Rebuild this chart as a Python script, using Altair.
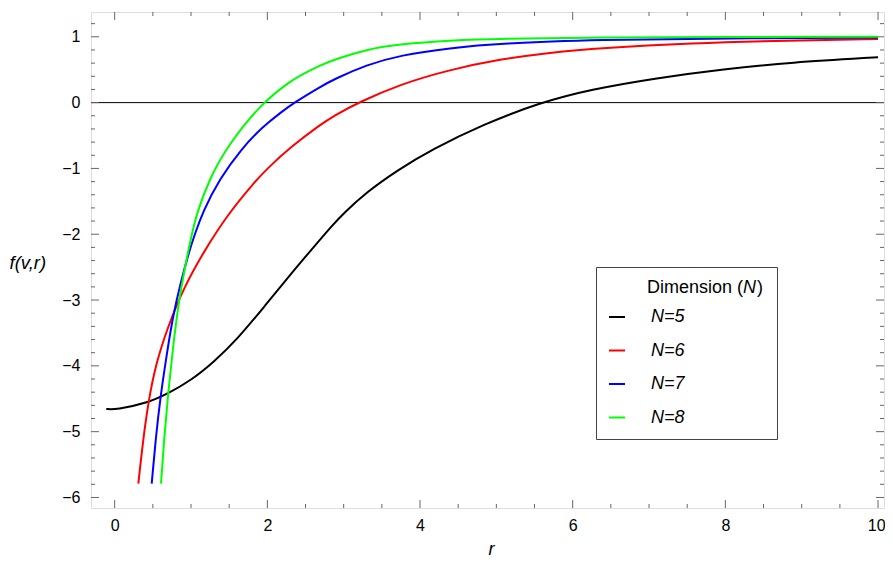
import altair as alt
import pandas as pd

FONT = "Liberation Sans"

# ---- data -------------------------------------------------------------------------
series_names = ["N=5", "N=6", "N=7", "N=8"]
series_colors = ["#000000", "#ff0000", "#0000ff", "#00ff00"]

r_N5 = [-0.11, 0.02, 0.43, 0.70, 1.00, 1.30, 1.61, 1.96, 2.31, 2.57, 2.87, 3.00, 3.30,
        3.70, 4.15, 4.83, 5.57, 6.23, 7.10, 7.98, 8.85, 10.0]
f_N5 = [-4.655, -4.665, -4.565, -4.42, -4.22, -3.94, -3.59, -3.10, -2.60, -2.245, -1.84,
        -1.68, -1.36, -1.03, -0.715, -0.33, 0.0, 0.20, 0.374, 0.51, 0.61, 0.69]

r_N6 = [0.31, 0.367, 0.44, 0.54, 0.695, 0.91, 1.17, 1.48, 1.83, 2.00, 2.31, 2.70, 2.87,
        3.19, 3.74, 4.39, 5.05, 5.70, 6.36, 7.54, 8.85, 10.0]
f_N6 = [-5.79, -5.18, -4.55, -3.97, -3.41, -2.80, -2.26, -1.70, -1.21, -1.00, -0.67,
        -0.33, -0.20, 0.0, 0.28, 0.50, 0.66, 0.76, 0.83, 0.905, 0.945, 0.967]

r_N7 = [0.485, 0.54, 0.60, 0.67, 0.76, 0.86, 0.98, 1.05, 1.153, 1.37, 1.68, 1.87, 2.00,
        2.17, 2.35, 2.70, 2.865, 3.30, 3.74, 4.39, 5.05, 6.36, 8.0, 10.0]
f_N7 = [-5.79, -5.08, -4.47, -3.92, -3.26, -2.75, -2.245, -2.0, -1.667, -1.16, -0.68,
        -0.45, -0.315, -0.155, 0.0, 0.245, 0.35, 0.575, 0.72, 0.83, 0.90, 0.955, 0.978,
        0.988]

r_N8 = [0.607, 0.65, 0.70, 0.76, 0.835, 0.92, 1.01, 1.08, 1.24, 1.48, 1.93, 2.31, 2.43,
        2.70, 2.865, 3.30, 3.74, 4.39, 5.05, 6.36, 8.0, 10.0]
f_N8 = [-5.79, -5.08, -4.42, -3.76, -3.05, -2.50, -2.0, -1.667, -1.16, -0.654, 0.0, 0.33,
        0.414, 0.57, 0.65, 0.81, 0.89, 0.945, 0.972, 0.99, 0.997, 1.0]

x_major = [0, 2, 4, 6, 8, 10]
y_major = [-6, -5, -4, -3, -2, -1, 0, 1]
x_minor = [0.5, 1, 1.5, 2.5, 3, 3.5, 4.5, 5, 5.5, 6.5, 7, 7.5, 8.5, 9, 9.5]
y_minor = [round(k * 0.2, 1) for k in range(-30, 7) if k % 5 != 0]
zero_line = [0]

legend_title_parts = ["Dimension (", "N", ")"]
x_title = "r"
y_title = "f(v,r)"

X_DOMAIN = [-0.31, 10.078]
Y_DOMAIN = [-6.16, 1.377]
W, H = 793, 496
TICK_C = "#666666"
PAD = " " * 16 + "\u200b"   # widens the legend entries (invisible)

# ---- tables -----------------------------------------------------------------------
rows = []
for name, rs, fs in zip(series_names, [r_N5, r_N6, r_N7, r_N8], [f_N5, f_N6, f_N7, f_N8]):
    for i, (r, f) in enumerate(zip(rs, fs)):
        rows.append({"series": name, "r": r, "f": f, "order": i})
df = pd.DataFrame(rows)

xs = alt.Scale(domain=X_DOMAIN, nice=False, zero=False)
ys = alt.Scale(domain=Y_DOMAIN, nice=False, zero=False)

lines = alt.Chart(df).mark_line(strokeWidth=2, interpolate="basis").encode(
    x=alt.X("r:Q", scale=xs,
            axis=alt.Axis(values=x_major, format="d", ticks=False, tickSize=0, domain=False,
                          grid=False, labelFont=FONT, labelFontSize=16, labelColor="black",
                          labelPadding=9, labelFlush=8, labelFlushOffset=7,
                          title=x_title, titleFont=FONT, titleFontSize=18,
                          titleFontStyle="italic", titleFontWeight="normal",
                          titleColor="black", titleX=400, titleY=46,
                          titleBaseline="alphabetic")),
    y=alt.Y("f:Q", scale=ys,
            axis=alt.Axis(values=y_major, format="d", ticks=False, tickSize=0, domain=False,
                          grid=False, labelFont=FONT, labelFontSize=16, labelColor="black",
                          labelPadding=11, title=y_title, titleFont=FONT, titleFontSize=18.5,
                          titleFontStyle="italic", titleFontWeight="normal",
                          titleColor="black", titleAngle=0, titleAlign="left",
                          titleBaseline="middle", titleX=-82, titleY=250)),
    color=alt.Color("series:N",
                    scale=alt.Scale(domain=series_names, range=series_colors),
                    legend=alt.Legend(title=" ", orient="none", legendX=505, legendY=255,
                                      direction="vertical", symbolType="stroke",
                                      symbolSize=256, symbolStrokeWidth=2,
                                      labelFont=FONT, labelFontSize=18,
                                      labelFontStyle="italic", labelColor="black",
                                      labelOffset=25, labelLimit=400,
                                      labelExpr="datum.label + '" + PAD + "'",
                                      titleFont=FONT, titleFontSize=18, titlePadding=11,
                                      rowPadding=15.5, padding=12, strokeColor="#444444")),
    order="order:Q",
)

zero = alt.Chart(pd.DataFrame({"y": zero_line})).mark_rule(color="black", strokeWidth=1).encode(
    y=alt.Y("y:Q", scale=ys), x=alt.value(0), x2=alt.value(W))

def xticks(vals, length):
    d = pd.DataFrame({"t": vals})
    bottom = alt.Chart(d).mark_rule(color=TICK_C, strokeWidth=1).encode(
        x=alt.X("t:Q", scale=xs), y=alt.value(H), y2=alt.value(H - length))
    top = alt.Chart(d).mark_rule(color=TICK_C, strokeWidth=1).encode(
        x=alt.X("t:Q", scale=xs), y=alt.value(0), y2=alt.value(length))
    return [bottom, top]

def yticks(vals, length):
    d = pd.DataFrame({"t": vals})
    left = alt.Chart(d).mark_rule(color=TICK_C, strokeWidth=1).encode(
        y=alt.Y("t:Q", scale=ys), x=alt.value(0), x2=alt.value(length))
    right = alt.Chart(d).mark_rule(color=TICK_C, strokeWidth=1).encode(
        y=alt.Y("t:Q", scale=ys), x=alt.value(W), x2=alt.value(W - length))
    return [left, right]

tick_layers = xticks(x_major, 8) + xticks(x_minor, 4) + yticks(y_major, 8) + yticks(y_minor, 4)

# legend title with italic N
tdf = pd.DataFrame({"t": legend_title_parts})
t1 = alt.Chart(tdf.iloc[[0]]).mark_text(align="right", baseline="alphabetic", font=FONT,
                                        fontSize=18, color="black").encode(
    text="t:N", x=alt.value(652), y=alt.value(281))
t2 = alt.Chart(tdf.iloc[[1]]).mark_text(align="left", baseline="alphabetic", font=FONT,
                                        fontSize=18, fontStyle="italic", color="black").encode(
    text="t:N", x=alt.value(652), y=alt.value(281))
t3 = alt.Chart(tdf.iloc[[2]]).mark_text(align="left", baseline="alphabetic", font=FONT,
                                        fontSize=18, color="black").encode(
    text="t:N", x=alt.value(666), y=alt.value(281))

chart = alt.layer(zero, *tick_layers, lines, t1, t2, t3).properties(
    width=W, height=H,
    autosize=alt.AutoSizeParams(type="none"),
    padding={"left": 83, "top": 4, "right": 1, "bottom": 50},
).configure_view(stroke="#666666", strokeWidth=1).configure(background="white")

chart.save("out.html", embed_options={"renderer": "svg", "actions": False})
